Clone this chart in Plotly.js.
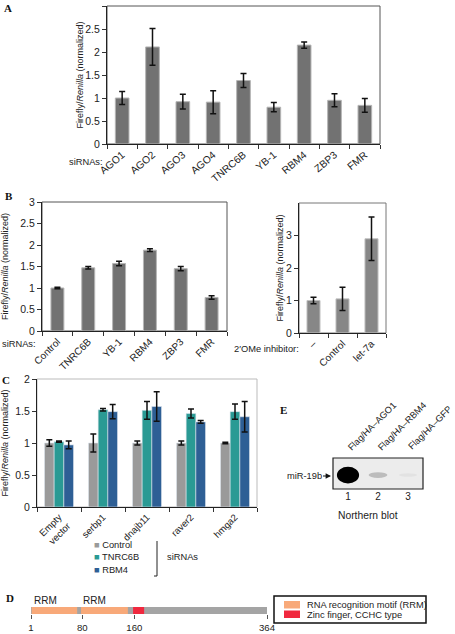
<!DOCTYPE html>
<html><head><meta charset="utf-8">
<script src="https://cdn.plot.ly/plotly-3.0.1.min.js"></script>
<style>html,body{margin:0;padding:0;background:#fff}</style>
</head><body><div id="chart" style="width:455px;height:634px"></div>
<script>
// ---------- Panel A ----------
const aCategories = ['AGO1','AGO2','AGO3','AGO4','TNRC6B','YB-1','RBM4','ZBP3','FMR'];
const aValues = [1.00, 2.11, 0.92, 0.91, 1.38, 0.80, 2.15, 0.95, 0.84];
const aErrors = [0.14, 0.40, 0.16, 0.25, 0.15, 0.10, 0.07, 0.14, 0.15];
// ---------- Panel B (left) ----------
const bCategories = ['Control','TNRC6B','YB-1','RBM4','ZBP3','FMR'];
const bValues = [1.00, 1.47, 1.57, 1.88, 1.45, 0.78];
const bErrors = [0.02, 0.03, 0.05, 0.03, 0.05, 0.04];
// ---------- Panel B (right) ----------
const b2Categories = ['–','Control','let-7a'];
const b2Values = [1.00, 1.05, 2.90];
const b2Errors = [0.10, 0.36, 0.67];
// ---------- Panel C ----------
const cReporters = ['Empty<br>vector','serbp1','dnajb11','raver2','hmga2'];
const cSeriesNames = ['Control','TNRC6B','RBM4'];
const cControl = [1.00, 1.00, 1.00, 1.00, 1.00];
const cControlErr = [0.05, 0.14, 0.03, 0.03, 0.01];
const cTNRC6B = [1.02, 1.52, 1.51, 1.46, 1.49];
const cTNRC6BErr = [0.01, 0.02, 0.14, 0.07, 0.12];
const cRBM4 = [0.97, 1.49, 1.57, 1.33, 1.41];
const cRBM4Err = [0.06, 0.11, 0.23, 0.02, 0.24];
// ---------- Panel D ----------
const dLength = 364;
const dTicks = [1, 80, 160, 364];
const dDomainType = ['RRM','RRM','ZF'];
const dDomainStart = [2, 78, 158];
const dDomainEnd = [72, 150, 175];
const dLegendLabels = ['RNA recognition motif (RRM)', 'Zinc finger, CCHC type'];
// ---------- Panel E ----------
const eLanes = [1, 2, 3];
const eLaneLabels = ['Flag/HA–AGO1','Flag/HA–RBM4','Flag/HA–GFP'];
const eBandIntensity = [1.0, 0.2, 0.04];

// ---------- styling ----------
const W = 455, H = 634;
const X = p => p / W, Y = p => 1 - p / H;
const FONT = 'Liberation Sans, Arial, Helvetica, sans-serif';
const barGrey = '#727272';
const cColors = ['#9a9a9a', '#2a9a94', '#2e5f95'];
const domColors = {RRM: '#f8a979', ZF: '#f0283e'};
const errStyle = (arr) => ({type:'data', array:arr, visible:true, color:'#111', thickness:1.5, width:3});
const yTitle = 'Firefly/<i>Renilla</i> (normalized)';
const small = 9.3;

const traces = [
  {type:'bar', x:aCategories, y:aValues, width:0.45, xaxis:'x', yaxis:'y',
   marker:{color:barGrey, line:{color:'#b5b5b5', width:1}}, error_y:errStyle(aErrors), showlegend:false},
  {type:'bar', x:bCategories, y:bValues, width:0.42, xaxis:'x2', yaxis:'y2',
   marker:{color:barGrey, line:{color:'#b5b5b5', width:1}}, error_y:errStyle(bErrors), showlegend:false},
  {type:'bar', x:b2Categories, y:b2Values, width:0.45, xaxis:'x3', yaxis:'y3',
   marker:{color:'#878787', line:{color:'#c0c0c0', width:1}}, error_y:errStyle(b2Errors), showlegend:false},
];
const cVals = [cControl, cTNRC6B, cRBM4];
const cErrs = [cControlErr, cTNRC6BErr, cRBM4Err];
cVals.forEach((v, i) => {
  traces.push({type:'bar', x:cReporters, y:v, width:0.22, offset:-0.33 + 0.22 * i,
    xaxis:'x4', yaxis:'y4', name:cSeriesNames[i],
    marker:{color:cColors[i], line:{color:'#dde6ee', width:0.6}}, error_y:errStyle(cErrs[i]), showlegend:false});
});
// D: protein backbone + domains
traces.push({type:'bar', orientation:'h', y:[0], x:[dLength - 1], base:[1], width:1,
  xaxis:'x6', yaxis:'y6', marker:{color:'#a4a4a4', line:{width:0}}, showlegend:false, hoverinfo:'skip'});
traces.push({type:'bar', orientation:'h', y:dDomainStart.map(() => 0),
  x:dDomainStart.map((s, i) => dDomainEnd[i] - s), base:dDomainStart, width:1,
  xaxis:'x6', yaxis:'y6', marker:{color:dDomainType.map(t => domColors[t]), line:{width:0}}, showlegend:false});
// E: invisible trace anchoring the lane axis
traces.push({type:'scatter', x:eLanes, y:eLanes.map(() => 0.5), mode:'markers', marker:{opacity:0},
  xaxis:'x5', yaxis:'y5', showlegend:false, hoverinfo:'skip'});

const baseX = {type:'category', tickangle:-45, tickson:'boundaries', ticks:'outside', ticklen:4,
  tickcolor:'#333', showline:true, linecolor:'#222', linewidth:1, showgrid:false, zeroline:false,
  tickfont:{size:10, color:'#222'}, fixedrange:true};
const baseY = {ticks:'outside', ticklen:4, tickcolor:'#333', showline:true, linecolor:'#222', linewidth:1,
  showgrid:false, zeroline:false, tickfont:{size:10.5, color:'#222'}, fixedrange:true};

const shapes = [];
function frame(xr, yr, color) {
  shapes.push({type:'rect', xref:xr + ' domain', yref:yr + ' domain', x0:0, x1:1, y0:0, y1:1,
    line:{color:color, width:1}, layer:'below'});
}
frame('x', 'y', '#555');
frame('x2', 'y2', '#555');
frame('x3', 'y3', '#777');
frame('x4', 'y4', '#bbb');

// E blot
shapes.push({type:'rect', xref:'x5 domain', yref:'y5 domain', x0:0, x1:1, y0:0, y1:1,
  fillcolor:'#ececec', line:{color:'#222', width:1.2}, layer:'below'});
eLanes.forEach((lane, i) => {
  const k = eBandIntensity[i];
  const hw = 0.3 + 0.07 * k, hh = 0.05 + 0.22 * k;
  shapes.push({type:'circle', xref:'x5', yref:'y5', x0:lane - hw, x1:lane + hw, y0:0.45 - hh, y1:0.45 + hh,
    fillcolor:'rgba(0,0,0,' + k + ')', line:{width:0}});
});

// D legend box
shapes.push({type:'rect', xref:'paper', yref:'paper', x0:X(274), x1:X(426), y0:Y(623), y1:Y(596),
  line:{color:'#111', width:1.5}});
const dLegendColors = [domColors.RRM, domColors.ZF];
dLegendColors.forEach((c, i) => {
  const top = 601 + i * 9.5;
  shapes.push({type:'rect', xref:'paper', yref:'paper', x0:X(284), x1:X(300), y0:Y(top + 7.5), y1:Y(top),
    fillcolor:c, line:{width:0}});
});
// C legend bracket
shapes.push({type:'line', xref:'paper', yref:'paper', x0:X(157), x1:X(157), y0:Y(541), y1:Y(576), line:{color:'#222', width:1}});
shapes.push({type:'line', xref:'paper', yref:'paper', x0:X(154), x1:X(157), y0:Y(576), y1:Y(576), line:{color:'#222', width:1}});

const annotations = [];
const letter = (t, x, y) => annotations.push({text:'<b>' + t + '</b>', xref:'paper', yref:'paper', x:X(x), y:Y(y),
  xanchor:'center', yanchor:'middle', showarrow:false,
  font:{family:'Liberation Serif, Times New Roman, serif', size:11, color:'#111'}});
letter('A', 8, 8); letter('B', 9, 196); letter('C', 6, 380); letter('D', 10, 598); letter('E', 283, 410);
const txt = (t, x, y, opts) => annotations.push(Object.assign({text:t, xref:'paper', yref:'paper', x:X(x), y:Y(y),
  xanchor:'center', yanchor:'middle', showarrow:false, font:{size:small, color:'#222'}}, opts || {}));
txt('siRNAs:', 105, 162, {xanchor:'right'});
txt('siRNAs:', 38, 344, {xanchor:'right'});
txt('2′OMe inhibitor:', 301, 349, {xanchor:'right'});
// C legend
cSeriesNames.forEach((n, i) => {
  txt('<span style="color:' + cColors[i] + '">■</span> ' + n, 92, 545 + i * 12.3, {xanchor:'left'});
});
txt('siRNAs', 165, 557, {xanchor:'left'});
// D labels
dDomainStart.forEach((s, i) => {
  if (dDomainType[i] === 'RRM') annotations.push({text:'RRM', xref:'x6', yref:'paper', x:s, y:Y(600),
    xanchor:'left', yanchor:'middle', showarrow:false, font:{size:10, color:'#222'}});
});
dLegendLabels.forEach((l, i) => txt(l, 305, 605 + i * 9.5, {xanchor:'left'}));
// E labels
eLaneLabels.forEach((l, i) => annotations.push({text:l, xref:'x5', yref:'paper', x:eLanes[i] - 0.15, y:Y(455),
  xanchor:'left', yanchor:'bottom', textangle:-45, showarrow:false, font:{size:9.2, color:'#222'}}));
annotations.push({text:'miR-19b', xref:'paper', yref:'paper', x:X(331), y:Y(476), showarrow:true,
  ax:-27, ay:0, arrowhead:2, arrowsize:0.9, arrowwidth:1.2, arrowcolor:'#111', standoff:0, font:{size:small, color:'#222'}});
txt('Northern blot', 368, 515, {font:{size:10.3, color:'#222'}});

const layout = {
  width:W, height:H, margin:{l:0, r:0, t:0, b:0}, autosize:false,
  paper_bgcolor:'#fff', plot_bgcolor:'rgba(0,0,0,0)', barmode:'overlay',
  font:{family:FONT, color:'#222'}, showlegend:false,
  xaxis: Object.assign({}, baseX, {domain:[X(107), X(380)], anchor:'y', tickangle:-40, tickfont:{size:10.3, color:'#222'}}),
  yaxis: Object.assign({}, baseY, {domain:[Y(144), Y(6)], anchor:'x', range:[0, 3], dtick:0.5,
    title:{text:yTitle, font:{size:9}, standoff:0}}),
  xaxis2: Object.assign({}, baseX, {domain:[X(42), X(227)], anchor:'y2'}),
  yaxis2: Object.assign({}, baseY, {domain:[Y(331), Y(202)], anchor:'x2', range:[0, 3], dtick:0.5,
    title:{text:yTitle, font:{size:9}, standoff:17}}),
  xaxis3: Object.assign({}, baseX, {domain:[X(299), X(386)], anchor:'y3'}),
  yaxis3: Object.assign({}, baseY, {domain:[Y(333), Y(203)], anchor:'x3', range:[0, 4], tickvals:[0, 1, 2, 3],
    title:{text:yTitle, font:{size:9}, standoff:0}}),
  xaxis4: Object.assign({}, baseX, {domain:[X(37), X(257)], anchor:'y4', tickfont:{size:9.5, color:'#222'}}),
  yaxis4: Object.assign({}, baseY, {domain:[Y(507), Y(379)], anchor:'x4', range:[0, 2], dtick:0.5,
    title:{text:yTitle, font:{size:9}, standoff:12}}),
  xaxis5: {domain:[X(333), X(423)], anchor:'y5', range:[0.5, 3.5], tickvals:eLanes, ticktext:eLanes.map(String),
    ticks:'', showline:false, showgrid:false, zeroline:false, tickfont:{size:10, color:'#222'}, fixedrange:true},
  yaxis5: {domain:[Y(489), Y(458)], anchor:'x5', range:[0, 1], visible:false, fixedrange:true},
  xaxis6: {domain:[X(31), X(267)], anchor:'y6', range:[1, dLength], tickvals:dTicks, ticks:'outside', ticklen:4,
    tickcolor:'#555', showline:false, showgrid:false, zeroline:false,
    tickfont:{size:9.6, color:'#222'}, fixedrange:true},
  yaxis6: {domain:[Y(614), Y(607)], anchor:'x6', range:[-0.5, 0.5], visible:false, fixedrange:true},
  shapes:shapes, annotations:annotations
};
Plotly.newPlot('chart', traces, layout, {displayModeBar:false, staticPlot:true});
</script></body></html>
